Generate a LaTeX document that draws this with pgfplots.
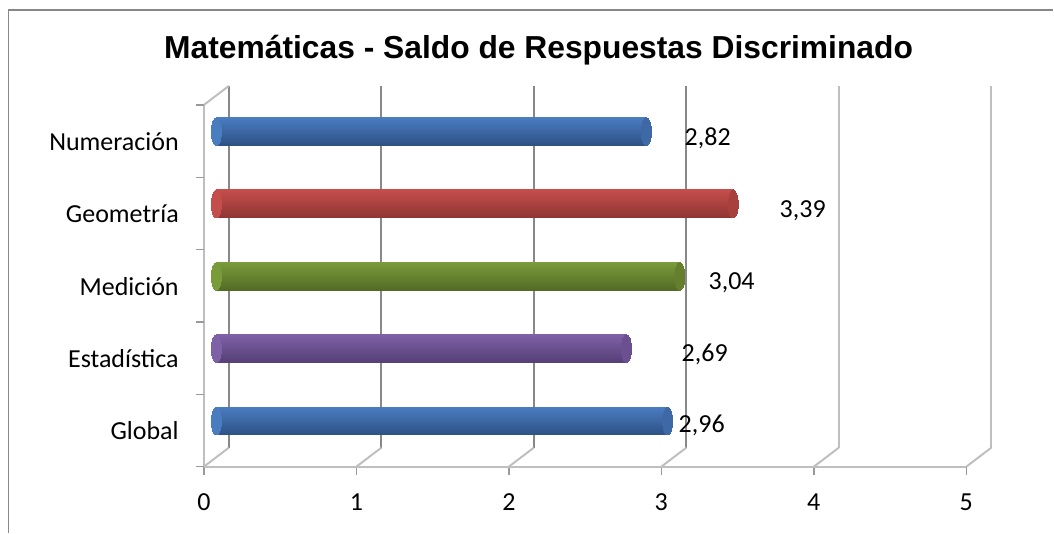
\documentclass[border=0pt]{standalone}
\usepackage{pgfplots}
\pgfplotsset{compat=1.18}
\usepackage{pgfplotstable}
\usepackage{fontspec}
\setmainfont{Carlito}
\newfontfamily\titlefont{Liberation Sans}
\newcommand\lab{\fontsize{26}{31}\selectfont}

\definecolor{axisc}{HTML}{BFBFBF}
\definecolor{gridc}{HTML}{888888}
\definecolor{framec}{HTML}{888888}
\definecolor{tickc}{HTML}{999999}
% blue
\definecolor{bT}{HTML}{4A7CC0}\definecolor{bM}{HTML}{5D96DC}\definecolor{bB}{HTML}{2D5184}\definecolor{bE}{HTML}{3E69A6}
% red
\definecolor{rT}{HTML}{C44E4B}\definecolor{rM}{HTML}{DE645F}\definecolor{rB}{HTML}{8E3432}\definecolor{rE}{HTML}{A8413E}
% green
\definecolor{gT}{HTML}{7A9B3A}\definecolor{gM}{HTML}{8DB24A}\definecolor{gB}{HTML}{526A24}\definecolor{gE}{HTML}{657F2E}
% purple
\definecolor{pT}{HTML}{7D60A6}\definecolor{pM}{HTML}{9677C6}\definecolor{pB}{HTML}{553F75}\definecolor{pE}{HTML}{6A5090}

\pgfplotstableread{
x y lab dx dy
2.82 5 {2,82} 50.7 -4
3.39 4 {3,39} 58.7 -4
3.04 3 {3,04} 41.0 -4
2.69 2 {2,69} 67.5 -3.5
2.96 1 {2,96} 23.3 -2.5
}\labels

\newcommand\cyl[3]{%
  \addplot[only marks, color=#3T, mark=*, mark size=14pt, mark options={xscale=0.36, draw=#3T, fill=#3T, line width=0pt}, xshift=12.5pt, yshift=9.5pt] coordinates {(0,#2)};
  \addplot[xbar, bar width=28pt, bar shift=0pt, xshift=12.5pt, yshift=9.5pt, draw=none, top color=#3T, middle color=#3M, bottom color=#3B] coordinates {(#1,#2)};
  \addplot[only marks, color=#3E, mark=*, mark size=14pt, mark options={xscale=0.36, draw=#3E, fill=#3E, line width=0pt}, xshift=12.5pt, yshift=9.5pt] coordinates {(#1,#2)};
}

\begin{document}
\begin{tikzpicture}
\path (0,0) rectangle (1054pt,533pt);
\draw[framec, line width=1.5pt] (8.5pt,0pt) -- (8.5pt,523pt) -- (1054pt,523pt);
\node[font=\titlefont\bfseries\fontsize{31.8}{36}\selectfont, anchor=base, inner sep=0pt] at (539pt,474pt) {Matemáticas - Saldo de Respuestas Discriminado};
\begin{axis}[
  at={(204pt,66pt)}, anchor=south west,
  scale only axis, width=763pt, height=362pt,
  xmin=0, xmax=5, ymin=0.5, ymax=5.5,
  clip=false,
  axis x line*=bottom, axis y line*=left,
  axis line style={draw=axisc, line width=2pt},
  xtick={0,1,2,3,4,5}, xticklabels={0,1,2,3,4,5},
  ytick={1,2,3,4,5}, yticklabels={Global,Estadística,Medición,Geometría,Numeración},
  ytick style={draw=none},
  xtick style={draw=tickc, line width=1.5pt},
  major tick length=8pt, tick align=outside,
  xticklabel style={font=\lab, anchor=base, inner sep=0pt, yshift=-36pt},
  yticklabel style={font=\lab, anchor=base east, inner sep=0pt, xshift=-17pt, yshift=-9.5pt},
]
% back wall gridlines
\draw[gridc, line width=1.8pt] ([xshift=25pt,yshift=19pt]axis cs:0,0.5) -- ([xshift=25pt,yshift=19pt]axis cs:0,5.5);
\draw[gridc, line width=1.8pt] ([xshift=25pt,yshift=19pt]axis cs:1,0.5) -- ([xshift=25pt,yshift=19pt]axis cs:1,5.5);
\draw[gridc, line width=1.8pt] ([xshift=25pt,yshift=19pt]axis cs:2,0.5) -- ([xshift=25pt,yshift=19pt]axis cs:2,5.5);
\draw[gridc, line width=1.8pt] ([xshift=25pt,yshift=19pt]axis cs:3,0.5) -- ([xshift=25pt,yshift=19pt]axis cs:3,5.5);
\draw[axisc, line width=2pt] ([xshift=25pt,yshift=19pt]axis cs:4,0.5) -- ([xshift=25pt,yshift=19pt]axis cs:4,5.5);
\draw[axisc, line width=2pt] ([xshift=25pt,yshift=19pt]axis cs:5,0.5) -- ([xshift=25pt,yshift=19pt]axis cs:5,5.5);
% floor diagonals
\draw[axisc, line width=2pt] (axis cs:0,0.5) -- ([xshift=25pt,yshift=19pt]axis cs:0,0.5);
\draw[axisc, line width=2pt] (axis cs:1,0.5) -- ([xshift=25pt,yshift=19pt]axis cs:1,0.5);
\draw[axisc, line width=2pt] (axis cs:2,0.5) -- ([xshift=25pt,yshift=19pt]axis cs:2,0.5);
\draw[axisc, line width=2pt] (axis cs:3,0.5) -- ([xshift=25pt,yshift=19pt]axis cs:3,0.5);
\draw[axisc, line width=2pt] (axis cs:4,0.5) -- ([xshift=25pt,yshift=19pt]axis cs:4,0.5);
\draw[axisc, line width=2pt] (axis cs:5,0.5) -- ([xshift=25pt,yshift=19pt]axis cs:5,0.5);
% left wall top
\draw[axisc, line width=2pt] (axis cs:0,5.5) -- ([xshift=25pt,yshift=19pt]axis cs:0,5.5);
% left ticks at category boundaries
\draw[tickc, line width=1.5pt] ([xshift=-8pt]axis cs:0,0.5) -- (axis cs:0,0.5);
\draw[tickc, line width=1.5pt] ([xshift=-8pt]axis cs:0,1.5) -- (axis cs:0,1.5);
\draw[tickc, line width=1.5pt] ([xshift=-8pt]axis cs:0,2.5) -- (axis cs:0,2.5);
\draw[tickc, line width=1.5pt] ([xshift=-8pt]axis cs:0,3.5) -- (axis cs:0,3.5);
\draw[tickc, line width=1.5pt] ([xshift=-8pt]axis cs:0,4.5) -- (axis cs:0,4.5);
\draw[tickc, line width=1.5pt] ([xshift=-8pt]axis cs:0,5.5) -- (axis cs:0,5.5);
% bars
\cyl{2.96}{1}{b}
\cyl{2.69}{2}{p}
\cyl{3.04}{3}{g}
\cyl{3.39}{4}{r}
\cyl{2.82}{5}{b}
% labels
\addplot[only marks, mark=none, nodes near coords, point meta=explicit symbolic,
  visualization depends on={\thisrow{dx}\as\dx},
  visualization depends on={\thisrow{dy}\as\dy},
  every node near coord/.append style={font=\lab, anchor=base west, inner sep=0pt, xshift=\dx pt, yshift=\dy pt}]
  table[x=x, y=y, meta=lab] {\labels};
\end{axis}
\end{tikzpicture}
\end{document}
